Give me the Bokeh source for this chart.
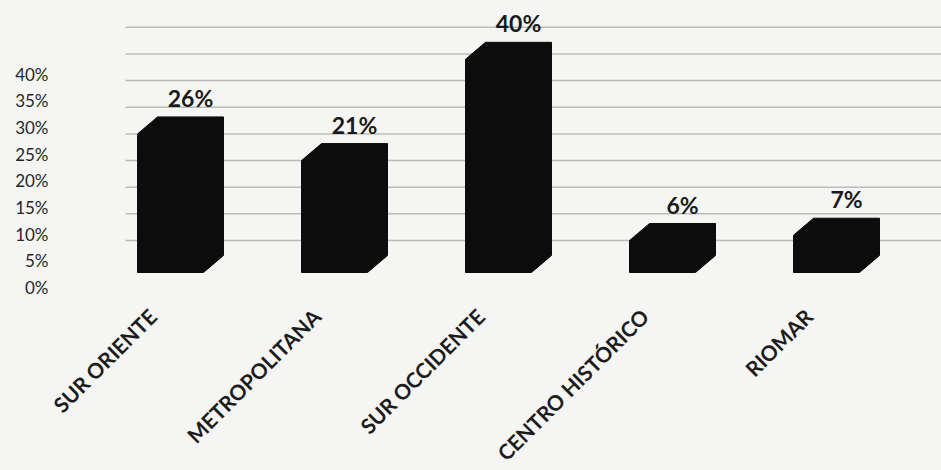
from bokeh.plotting import figure
from bokeh.models import Range1d, LinearAxis, FixedTicker, ColumnDataSource, LabelSet
from bokeh.embed import file_html
from bokeh.resources import INLINE
from bokeh.core.properties import value

# ---- data ----
categories = ["SUR ORIENTE", "METROPOLITANA", "SUR OCCIDENTE", "CENTRO HISTÓRICO", "RIOMAR"]
values = [26, 21, 40, 6, 7]
y_ticks = [0, 5, 10, 15, 20, 25, 30, 35, 40]
y_tick_labels = ["0%", "5%", "10%", "15%", "20%", "25%", "30%", "35%", "40%"]
value_labels = [f"{v}%" for v in values]

# ---- geometry / style ----
W, H = 941, 470
BORDER_LEFT = 48
FRAME_W = W - BORDER_LEFT
PX_PER_PCT = 5.33
PX_PER_CAT = 164.0
BASE_Y = 272          # front-face baseline, px from figure top
FIRST_X = 122         # first category centre, px from frame left
BAR_HALF = 33 / PX_PER_CAT
DEPTH_X = 20 / PX_PER_CAT
DEPTH_Y = 17 / PX_PER_PCT
AXIS_SHIFT = 15 / PX_PER_PCT   # front axis labels sit below the bar bases
WALL_SHIFT = 32 / PX_PER_PCT   # back wall gridlines sit above the bar bases
WALL_X0 = -45 / PX_PER_CAT     # back wall starts a little left of the first bar
CAT_DX = -18 / PX_PER_CAT      # category label anchor relative to bar centre
CAT_DY = -40 / PX_PER_PCT
BG = "#f5f5f3"
BAR = "#0c0c0c"

x0 = -FIRST_X / PX_PER_CAT
x1 = x0 + FRAME_W / PX_PER_CAT
x_range = Range1d(x0, x1)
y_top = BASE_Y / PX_PER_PCT
y_bot = -(H - BASE_Y) / PX_PER_PCT
y_range = Range1d(y_bot, y_top)

p = figure(width=W, height=H, x_range=x_range, y_range=y_range,
           output_backend="svg", toolbar_location=None,
           x_axis_location=None, y_axis_location=None,
           min_border_left=BORDER_LEFT, min_border_right=0,
           min_border_top=0, min_border_bottom=0,
           outline_line_color=None,
           background_fill_color=BG, border_fill_color=BG,
           styles={"background-color": BG})
p.grid.visible = False

p.extra_y_ranges = {
    "axis": Range1d(y_bot + AXIS_SHIFT, y_top + AXIS_SHIFT),
    "wall": Range1d(y_bot - WALL_SHIFT, y_top - WALL_SHIFT),
}

# back-wall gridlines
p.segment(x0=[WALL_X0] * len(y_ticks), y0=y_ticks,
          x1=[x1] * len(y_ticks), y1=y_ticks, y_range_name="wall",
          line_color="#bcbcbc", line_width=1.5, level="underlay")

# y axis
yax = LinearAxis(y_range_name="axis", ticker=FixedTicker(ticks=y_ticks))
yax.major_label_overrides = {t: l for t, l in zip(y_ticks, y_tick_labels)}
yax.axis_line_color = None
yax.major_tick_line_color = None
yax.minor_tick_line_color = None
yax.major_tick_out = 0
yax.major_tick_in = 0
yax.major_label_standoff = 0
yax.major_label_text_font = "Lato"
yax.major_label_text_font_size = "17px"
yax.major_label_text_color = "#262626"
p.add_layout(yax, "left")

# 3D-looking bars (silhouette of a box: front + top + side)
xs, ys = [], []
for i, v in enumerate(values):
    l, r = i - BAR_HALF, i + BAR_HALF
    xs.append([l, l, l + DEPTH_X, r + DEPTH_X, r + DEPTH_X, r])
    ys.append([0, v, v + DEPTH_Y, v + DEPTH_Y, DEPTH_Y, 0])
p.patches(xs, ys, fill_color=BAR, line_color=BAR, line_width=1)

# value labels
src = ColumnDataSource(dict(x=[i + DEPTH_X for i in range(len(values))],
                            y=[v + DEPTH_Y for v in values],
                            t=value_labels))
p.text(x="x", y="y", text="t", source=src, y_offset=-19,
       text_align="center", text_baseline="alphabetic",
       text_font=value("Lato"), text_font_style="bold",
       text_font_size="23px", text_color="#1a1a1a")

# category labels (rotated)
csrc = ColumnDataSource(dict(x=[i + CAT_DX for i in range(len(categories))],
                             y=[CAT_DY] * len(categories), t=categories))
cats = LabelSet(x="x", y="y", text="t", source=csrc, angle=0.785398,
                text_align="right", text_baseline="middle",
                text_font=value("Lato"), text_font_style="bold",
                text_font_size="21px", text_color="#1c1c1c")
p.add_layout(cats)

open("out.html", "w").write(file_html(p, INLINE))
